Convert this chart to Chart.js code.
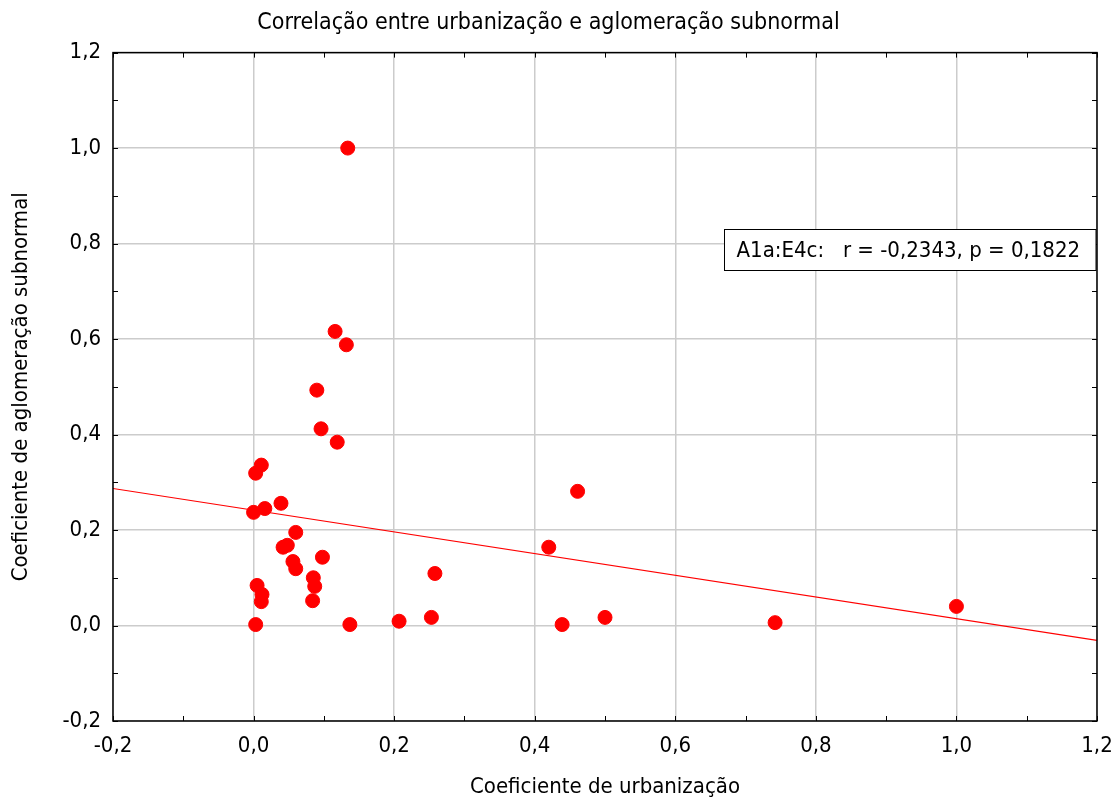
<!DOCTYPE html>
<html>
<head>
<meta charset="utf-8">
<script src="https://cdn.jsdelivr.net/npm/chart.js@4"></script>
<style>
  html, body { margin: 0; padding: 0; background: #fff; }
  #wrap { width: 1117px; height: 800px; }
</style>
</head>
<body>
<div id="wrap"><canvas id="chart"></canvas></div>
<script>
// urbanization coefficient (x) vs subnormal agglomeration coefficient (y)
const urbanX = [0.134, 0.116, 0.132, 0.090, 0.096, 0.119, 0.011, 0.003, 0.000, 0.016,
  0.039, 0.060, 0.048, 0.042, 0.098, 0.056, 0.060, 0.005, 0.012, 0.011,
  0.085, 0.087, 0.084, 0.003, 0.137, 0.207, 0.253, 0.258, 0.420, 0.461,
  0.439, 0.500, 0.742, 1.000]
const aglomY = [1.000, 0.616, 0.588, 0.493, 0.412, 0.384, 0.336, 0.319, 0.237, 0.245,
  0.256, 0.195, 0.168, 0.164, 0.143, 0.134, 0.119, 0.084, 0.065, 0.050,
  0.100, 0.082, 0.052, 0.002, 0.002, 0.009, 0.017, 0.109, 0.164, 0.281,
  0.002, 0.017, 0.006, 0.040]
// fitted line end points
const fitX = [-0.2, 1.2]
const fitY = [0.287, -0.031]
const xTicks = [-0.2, 0, 0.2, 0.4, 0.6, 0.8, 1.0, 1.2]
const statLabel = 'A1a:E4c:   r = -0,2343, p = 0,1822'

const FONT = "'Liberation Sans Narrow', 'DejaVu Sans Condensed', sans-serif"
const fmt = v => (Math.round(v * 10) / 10).toFixed(1).replace('.', ',')

const points = urbanX.map((x, i) => ({ x: x, y: aglomY[i] }))
const fitLine = fitX.map((x, i) => ({ x: x, y: fitY[i] }))

// frame, inner minor ticks and r/p label box
const framePlugin = {
  id: 'frame',
  afterDraw(chart) {
    const { ctx, chartArea: a, scales } = chart
    ctx.save()
    ctx.strokeStyle = '#000'
    ctx.lineWidth = 1
    ctx.beginPath()
    for (let v = -0.2; v <= 1.2001; v += 0.1) {
      const px = Math.round(scales.x.getPixelForValue(v)) + 0.5
      const py = Math.round(scales.y.getPixelForValue(v)) + 0.5
      ctx.moveTo(px, a.top); ctx.lineTo(px, a.top + 5)
      ctx.moveTo(px, a.bottom); ctx.lineTo(px, a.bottom - 5)
      ctx.moveTo(a.left, py); ctx.lineTo(a.left + 5, py)
      ctx.moveTo(a.right, py); ctx.lineTo(a.right - 5, py)
    }
    ctx.stroke()
    ctx.lineWidth = 1.5
    ctx.strokeRect(a.left, a.top, a.right - a.left, a.bottom - a.top)

    // label box
    const bx = Math.round(scales.x.getPixelForValue(0.67)) + 0.5
    const by = Math.round(scales.y.getPixelForValue(0.83)) + 0.5
    const bw = a.right - 1 - bx
    const bh = 41
    ctx.fillStyle = '#fff'
    ctx.fillRect(bx, by, bw, bh)
    ctx.lineWidth = 1
    ctx.strokeRect(bx, by, bw, bh)
    ctx.fillStyle = '#000'
    ctx.font = '22px ' + FONT
    ctx.textBaseline = 'middle'
    ctx.fillText(statLabel, bx + 12, by + bh / 2 + 1)
    ctx.restore()
  }
}

new Chart(document.getElementById('chart'), {
  type: 'scatter',
  data: {
    datasets: [
      {
        label: 'dados',
        data: points,
        backgroundColor: '#ff0000',
        borderColor: '#ff0000',
        pointRadius: 7,
        pointHoverRadius: 7,
        order: 1
      },
      {
        type: 'line',
        label: 'ajuste',
        data: fitLine,
        borderColor: '#ff0000',
        borderWidth: 1.2,
        pointRadius: 0,
        fill: false,
        order: 2
      }
    ]
  },
  options: {
    responsive: true,
    maintainAspectRatio: false,
    animation: false,
    layout: { padding: { left: 0, right: 20, top: 0, bottom: 0 } },
    plugins: {
      legend: { display: false },
      tooltip: { enabled: false },
      title: {
        display: true,
        text: 'Correlação entre urbanização e aglomeração subnormal',
        color: '#000',
        font: { family: FONT, size: 23, weight: 'normal' },
        padding: { top: 9, bottom: 16 }
      }
    },
    scales: {
      x: {
        type: 'linear',
        min: -0.2,
        max: 1.2,
        afterBuildTicks: s => { s.ticks = xTicks.map(v => ({ value: v })) },
        afterFit: s => { s.height = 79; s.paddingRight = 0; s.paddingLeft = 0 },
        border: { display: false },
        grid: { color: '#cccccc', lineWidth: 1.5, drawTicks: false },
        ticks: {
          color: '#000',
          padding: 12,
          maxRotation: 0,
          font: { family: FONT, size: 22 },
          callback: v => fmt(v)
        },
        title: {
          display: true,
          text: 'Coeficiente de urbanização',
          color: '#000',
          font: { family: FONT, size: 22 },
          padding: { top: 14, bottom: 0 }
        }
      },
      y: {
        type: 'linear',
        min: -0.2,
        max: 1.2,
        afterBuildTicks: s => { s.ticks = xTicks.map(v => ({ value: v })) },
        afterFit: s => { s.width = 113; s.paddingTop = 0; s.paddingBottom = 0 },
        border: { display: false },
        grid: { color: '#cccccc', lineWidth: 1.5, drawTicks: false },
        ticks: {
          color: '#000',
          padding: 12,
          font: { family: FONT, size: 22 },
          callback: v => fmt(v)
        },
        title: {
          display: true,
          text: 'Coeficiente de aglomeração subnormal',
          color: '#000',
          font: { family: FONT, size: 22 },
          padding: { top: 8, bottom: 0 }
        }
      }
    }
  },
  plugins: [framePlugin]
})
</script>
</body>
</html>
